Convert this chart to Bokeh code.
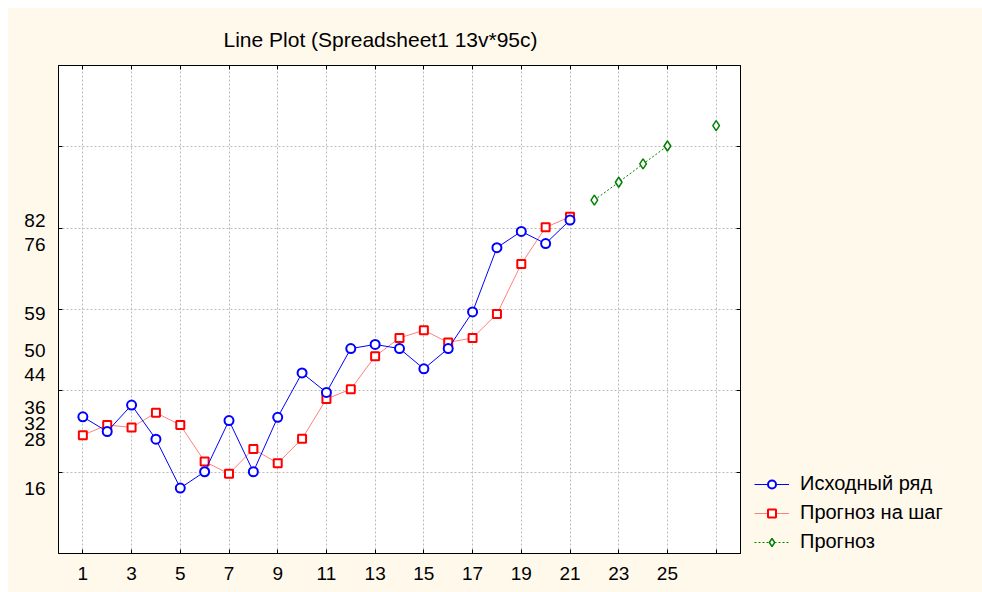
from bokeh.plotting import figure
from bokeh.layouts import row
from bokeh.models import FixedTicker, LinearAxis, Legend, LegendItem, ColumnDataSource
from bokeh.embed import file_html
from bokeh.resources import INLINE

# ---- data ----
x_orig = list(range(1, 22))
y_orig = [33.6, 30.0, 36.5, 28.1, 16.1, 20.1, 32.7, 20.1, 33.5, 44.4, 39.6,
          50.4, 51.4, 50.4, 45.4, 50.4, 59.4, 75.2, 79.2, 76.2, 82.0]
x_step = list(range(1, 22))
y_step = [29.1, 31.6, 31.0, 34.6, 31.6, 22.6, 19.6, 25.7, 22.2, 28.2, 38.0,
          40.4, 48.5, 53.0, 54.9, 51.9, 53.0, 58.9, 71.2, 80.2, 82.8]
x_fc = [22, 23, 24, 25, 26, 27]
y_fc = [86.9, 91.3, 95.8, 100.2, float("nan"), 105.2]

x_ticks = list(range(1, 28, 2))
y_label_ticks = [16, 28, 32, 36, 44, 50, 59, 76, 82]
y_grid_ticks = [20, 40, 60, 80, 100]

title_text = "Line Plot (Spreadsheet1 13v*95c)"
names = ["Исходный ряд", "Прогноз на шаг", "Прогноз"]

FONT = "Liberation Sans"
BG = "#FFF9EC"

p = figure(width=742, height=584, x_range=(0, 28), y_range=(0, 120),
           output_backend="svg", toolbar_location=None,
           min_border_left=50, min_border_right=10, min_border_top=57, min_border_bottom=39,
           background_fill_color="white", border_fill_color=BG,
           outline_line_color="black", outline_line_width=1)

p.title.text = title_text
p.title.text_font = FONT
p.title.text_font_size = "21px"
p.title.text_font_style = "normal"
p.title.text_color = "black"
p.title.align = "left"
p.title.offset = 165
p.title.standoff = 30

# bottom axis
xa = p.xaxis[0]
xa.ticker = FixedTicker(ticks=x_ticks)
xa.major_label_overrides = {27: ""}
xa.major_tick_in = 4
xa.major_tick_out = 0
xa.minor_tick_line_color = None
xa.major_label_text_font = FONT
xa.major_label_text_font_size = "19px"
xa.major_label_text_color = "black"
xa.major_label_standoff = 13
xa.axis_line_color = "black"
xa.major_tick_line_color = "black"

# left axis
ya = p.yaxis[0]
ya.ticker = FixedTicker(ticks=y_label_ticks, minor_ticks=y_grid_ticks)
ya.major_tick_line_color = None
ya.minor_tick_in = 4
ya.minor_tick_out = 0
ya.minor_tick_line_color = "black"
ya.major_label_text_font = FONT
ya.major_label_text_font_size = "19px"
ya.major_label_text_color = "black"
ya.major_label_standoff = 7
ya.axis_line_color = "black"

# top & right axes (ticks only)
top = LinearAxis(ticker=FixedTicker(ticks=x_ticks),
                 major_label_overrides={t: "" for t in x_ticks},
                 major_label_standoff=0, major_tick_in=4, major_tick_out=0,
                 major_tick_line_color="black",
                 minor_tick_line_color=None, axis_line_color="black")
right = LinearAxis(ticker=FixedTicker(ticks=y_grid_ticks),
                   major_label_overrides={t: "" for t in y_grid_ticks},
                   major_label_standoff=0, major_tick_in=4, major_tick_out=0,
                   major_tick_line_color="black",
                   minor_tick_line_color=None, axis_line_color="black")
p.add_layout(top, "above")
p.add_layout(right, "right")

p.xgrid.ticker = FixedTicker(ticks=x_ticks)
p.ygrid.ticker = FixedTicker(ticks=y_grid_ticks)
for g in (p.xgrid[0], p.ygrid[0]):
    g.grid_line_color = "#BBBBBB"
    g.grid_line_dash = "2 2"
    g.grid_line_width = 1

s1 = ColumnDataSource(dict(x=x_orig, y=y_orig))
s2 = ColumnDataSource(dict(x=x_step, y=y_step))
s3 = ColumnDataSource(dict(x=x_fc, y=y_fc))

STYLE1 = dict(line=dict(line_color="#0000FF", line_width=1),
              mark=dict(marker="circle", size=9, line_color="#0000FF", line_width=2, fill_color="white"))
STYLE2 = dict(line=dict(line_color="#FF8080", line_width=1),
              mark=dict(marker="square", size=8, line_color="#FF0000", line_width=2, fill_color="white"))
STYLE3 = dict(line=dict(line_color="#008000", line_width=1, line_dash="2 2"),
              mark=dict(marker="diamond", size=10, line_color="#008000", line_width=1.5, fill_color="white"))

p.line("x", "y", source=s2, **STYLE2["line"])
p.scatter("x", "y", source=s2, **STYLE2["mark"])
p.line("x", "y", source=s1, **STYLE1["line"])
p.scatter("x", "y", source=s1, **STYLE1["mark"])
p.line("x", "y", source=s3, **STYLE3["line"])
p.scatter("x", "y", source=s3, **STYLE3["mark"])

# legend panel to the right of the plot frame; its ranges keep the series off-view,
# so only the legend samples of each series show there
p2 = figure(width=232, height=584, x_range=(-3, -2), y_range=(-3, -2),
            x_axis_type=None, y_axis_type=None,
            output_backend="svg", toolbar_location=None, min_border=0,
            background_fill_color=BG, border_fill_color=BG, outline_line_color=None)
p2.grid.visible = False
items = []
for name, st, src in zip(names, [STYLE1, STYLE2, STYLE3], [s1, s2, s3]):
    lr = p2.line("x", "y", source=src, **st["line"])
    mr = p2.scatter("x", "y", source=src, **st["mark"])
    items.append(LegendItem(label=name, renderers=[lr, mr]))

legend = Legend(items=items, location=(4, 0), margin=0, padding=0,
                border_line_color=None, background_fill_alpha=0,
                glyph_width=35, glyph_height=20, label_height=20, spacing=6,
                label_standoff=11, label_text_font=FONT, label_text_font_size="20px",
                label_text_color="black")
p2.add_layout(legend, "center")

layout = row(p, p2, margin=(8, 0, 0, 8), spacing=0, styles={"background-color": BG})

open("out.html", "w").write(file_html(layout, INLINE))
